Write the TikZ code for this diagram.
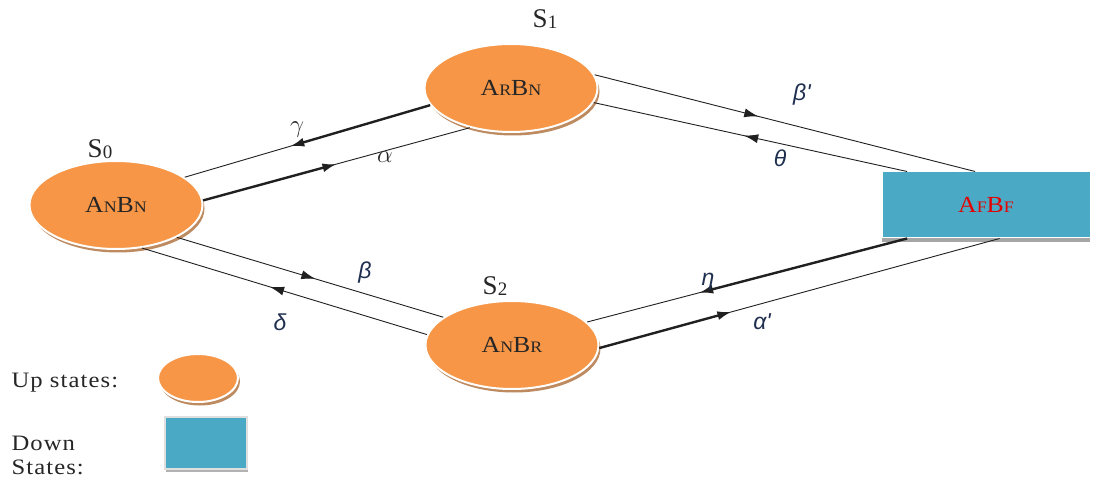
\documentclass[tikz,border=0pt]{standalone}
\usepackage{fontspec}
\setmainfont{Liberation Serif}
\newfontfamily\wfont{Liberation Serif}[FakeStretch=1.12,LetterSpace=5]
\newfontfamily\gsans{Liberation Sans}
\newfontfamily\gserif{Liberation Serif}
\usetikzlibrary{arrows.meta,decorations.markings,shadows,calc,shapes.geometric}
\definecolor{upor}{HTML}{F79646}
\definecolor{downbl}{HTML}{4AAAC5}
\definecolor{shbr}{HTML}{BE8A60}
\definecolor{glab}{HTML}{1F2F4F}
\definecolor{lnc}{HTML}{202020}
\tikzset{
  upstate/.style={ellipse, fill=upor, draw=white, line width=2pt, minimum width=173pt, minimum height=88pt, inner sep=0pt,
    drop shadow={shadow xshift=2pt, shadow yshift=-3.5pt, fill=shbr, opacity=1},
    font=\wfont\fontsize{23}{24}\selectfont, text=black!85},
  downstate/.style={rectangle, fill=downbl, draw=white, line width=1pt, minimum width=208pt, minimum height=66pt, inner sep=0pt,
    drop shadow={shadow xshift=0pt, shadow yshift=-4pt, fill=gray!70, opacity=1},
    font=\wfont\fontsize{23}{24}\selectfont, text=red!90!black},
  slabel/.style={font=\fontsize{27}{28}\selectfont, text=black!85},
  thinln/.style={draw=lnc, line width=0.9pt},
  thickln/.style={draw=lnc, line width=2.4pt, -{Latex[length=14pt,width=9pt]}},
  midarrow/.style={postaction={decorate}, decoration={markings, mark=at position #1 with {\arrow{Latex[length=14pt,width=9pt]}}}},
  glsans/.style={font=\gsans\itshape\fontsize{23}{24}\selectfont, text=glab},
  glserif/.style={font=\gserif\itshape\fontsize{25}{25}\selectfont, text=black!85},
  legtext/.style={font=\wfont\fontsize{22}{24}\selectfont, text=black!85, anchor=west, align=left},
}
\newcommand{\sm}[1]{{\fontsize{16}{16}\selectfont #1}}
\newcommand{\sidx}[1]{\raisebox{-1pt}{\fontsize{19}{19}\selectfont #1}}
\begin{document}
\begin{tikzpicture}[x=1pt,y=-1pt]
\fill[white] (0,0) rectangle (1094,478);
\useasboundingbox (0,0) rectangle (1094,478);

% states
\node[upstate] (s0) at (116,205) {A\sm{N}B\sm{N}};
\node[upstate] (s1) at (511,88) {A\sm{R}B\sm{N}};
\node[upstate] (s2) at (512,345) {A\sm{N}B\sm{R}};
\node[downstate] (ff) at (986,205) {A\sm{F}B\sm{F}};

\node[slabel] (l0) at (100,149) {S\sidx{0}};
\node[slabel] (l1) at (545,19) {S\sidx{1}};
\node[slabel] (l2) at (495,286) {S\sidx{2}};

% gamma: S1 -> S0
\draw[thinln] (s1.192) -- (s0.22);
\draw[thickln] (s1.192) -- ($(s1.192)!0.57!(s0.22)$);
% alpha: S0 -> S1
\draw[thinln] (s0.3) -- (s1.224);
\draw[thickln] (s0.3) -- ($(s0.3)!0.50!(s1.224)$);
% beta': S1 -> F
\draw[thinln, midarrow=0.43] (s1.9) -- (ff.108);
% theta: F -> S1
\draw[thinln, midarrow=0.52] (ff.157) -- (s1.-10);
% beta: S0 -> S2
\draw[thinln, midarrow=0.52] (s0.-28) -- (s2.158);
% delta: S2 -> S0
\draw[thinln, midarrow=0.55] (s2.173) -- (s0.-59);
% eta: F -> S2
\draw[thinln] (ff.203) -- (s2.17);
\draw[thickln] (ff.203) -- ($(ff.203)!0.65!(s2.17)$);
% alpha': S2 -> F
\draw[thinln] (s2.-2) -- (ff.-68);
\draw[thickln] (s2.-2) -- ($(s2.-2)!0.33!(ff.-68)$);

% rate labels
\node[glserif] (lg) at (297,130) {$\gamma$};
\node[glserif] (la) at (385,157) {$\alpha$};
\node[glsans] (lbp) at (802,95) {β'};
\node[glsans] (lth) at (780,158) {θ};
\node[glsans] (lb) at (365,273) {β};
\node[glsans] (ld) at (280,322) {δ};
\node[glsans] (le) at (708,282) {η};
\node[glsans] (lap) at (762,322) {α'};

% legend
\node[legtext] (up) at (8,383) {Up states:};
\node[upstate, minimum width=80pt, minimum height=48pt, drop shadow={shadow xshift=1.5pt, shadow yshift=-3pt, fill=shbr, opacity=1}] (lu) at (198,378) {};
\node[legtext] (dn) at (8,455) {Down\\States:};
\node[rectangle, fill=downbl, draw=gray!25, line width=2pt, minimum width=82pt, minimum height=52pt,
  drop shadow={shadow xshift=1pt, shadow yshift=-3pt, fill=gray!60, opacity=1}] (ld2) at (206,443) {};
\end{tikzpicture}
\end{document}
